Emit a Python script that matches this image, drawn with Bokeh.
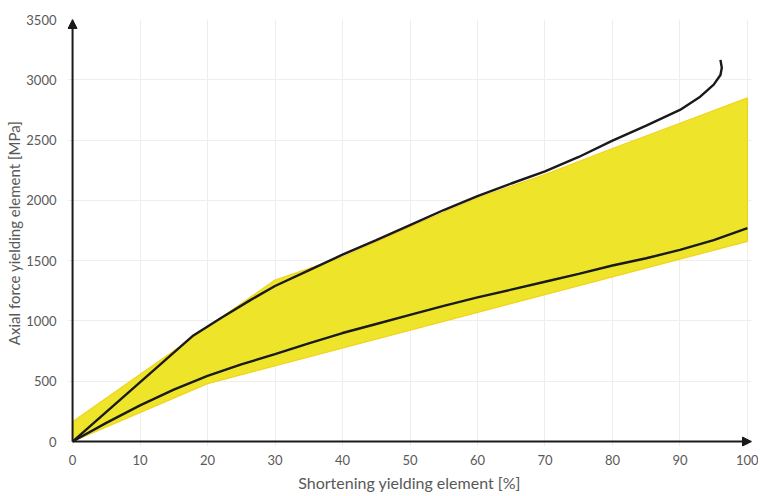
from bokeh.plotting import figure
from bokeh.models import Range1d, FixedTicker, Arrow, NormalHead
from bokeh.embed import file_html
from bokeh.resources import INLINE

# ---- data ----
x_ticks = [0, 10, 20, 30, 40, 50, 60, 70, 80, 90, 100]
y_ticks = [0, 500, 1000, 1500, 2000, 2500, 3000, 3500]

band_upper_x = [0, 30, 40, 50, 60, 70, 80, 90, 100]
band_upper_y = [165, 1340, 1530, 1780, 2020, 2215, 2430, 2640, 2850]
band_lower_x = [0, 20, 100]
band_lower_y = [0, 480, 1660]

upper_x = [0, 17.9, 22, 26.4, 30, 35, 40, 45, 50, 55, 60, 65, 70, 75, 80, 85, 90, 93, 95, 96, 96.2, 96.0]
upper_y = [0, 880, 1025, 1175, 1290, 1420, 1550, 1670, 1795, 1920, 2035, 2140, 2240, 2360, 2495, 2620, 2750, 2860, 2960, 3040, 3100, 3165]

lower_x = [0, 5, 10, 15, 20, 25, 30, 35, 40, 45, 50, 55, 60, 65, 70, 75, 80, 85, 90, 95, 100]
lower_y = [0, 155, 300, 430, 545, 640, 725, 815, 900, 975, 1050, 1125, 1195, 1260, 1325, 1390, 1460, 1520, 1590, 1670, 1770]

x_title = "Shortening yielding element [%]"
y_title = "Axial force yielding element [MPa]"

X_MIN, X_MAX = -0.75, 100.6
Y_MIN, Y_MAX = -41, 3500

FONT = "Lato"
TXT = "#595959"
INK = "#1a1a1a"

p = figure(width=758, height=494, x_range=Range1d(X_MIN, X_MAX), y_range=Range1d(Y_MIN, Y_MAX),
           output_backend="svg", toolbar_location=None,
           min_border_left=67, min_border_right=7, min_border_top=19, min_border_bottom=47)
p.outline_line_color = None
p.background_fill_color = "white"
p.border_fill_color = "white"

# grid
p.xgrid.ticker = FixedTicker(ticks=x_ticks)
p.ygrid.ticker = FixedTicker(ticks=y_ticks)
p.xgrid.grid_line_color = "#EEEEEE"
p.ygrid.grid_line_color = "#EEEEEE"

# band
bx = band_upper_x + band_lower_x[::-1]
by = band_upper_y + band_lower_y[::-1]
p.patch(bx, by, fill_color="#EEE52B", line_color="#F2D21E", line_width=1.2)

# curves
p.line(upper_x, upper_y, line_color=INK, line_width=2.4)
p.line(lower_x, lower_y, line_color=INK, line_width=2.4)

# axes
for ax in (p.xaxis[0], p.yaxis[0]):
    ax.axis_line_color = None
    ax.major_tick_line_color = None
    ax.minor_tick_line_color = None
    ax.major_label_text_font = FONT
    ax.major_label_text_font_size = "13px"
    ax.major_label_text_color = TXT
    ax.axis_label_text_font = FONT
    ax.axis_label_text_font_style = "normal"
    ax.axis_label_text_color = TXT
p.xaxis.axis_label_text_font_size = "16px"
p.yaxis.axis_label_text_font_size = "15px"
p.xaxis.ticker = FixedTicker(ticks=x_ticks)
p.yaxis.ticker = FixedTicker(ticks=y_ticks)
p.xaxis.major_label_standoff = 2
p.yaxis.major_label_standoff = 5
p.xaxis.axis_label_standoff = 5
p.yaxis.axis_label_standoff = 0
p.xaxis.axis_label = x_title
p.yaxis.axis_label = y_title

# axis arrows
p.add_layout(Arrow(end=NormalHead(size=9, fill_color=INK, line_color=INK),
                   x_start=0, y_start=0, x_end=X_MAX, y_end=0,
                   line_color=INK, line_width=2))
p.add_layout(Arrow(end=NormalHead(size=9, fill_color=INK, line_color=INK),
                   x_start=0, y_start=0, x_end=0, y_end=Y_MAX,
                   line_color=INK, line_width=2))

open("out.html", "w").write(file_html(p, INLINE))
